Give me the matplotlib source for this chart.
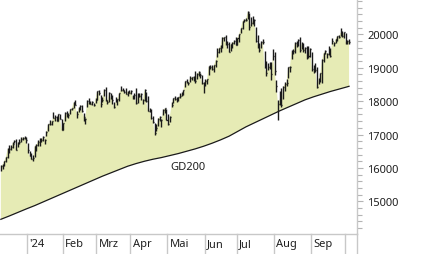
"""
Nasdaq-100 style daily bar chart with GD200 (200-day average) and shaded area
"""

import matplotlib.pyplot as plt
import matplotlib.transforms as mtransforms
import numpy as np
import pandas as pd
from matplotlib import ticker

# trading days 07.12.2023 - 03.10.2024 (exchange holidays removed)
holidays = ["2023-12-25", "2024-01-01", "2024-01-15", "2024-02-19", "2024-03-29",
            "2024-05-27", "2024-06-19", "2024-07-04", "2024-09-02"]
days = pd.bdate_range("2023-12-07", "2024-10-03", freq="C", holidays=holidays)

close = [
    16050, 16085, 16205, 16330, 16560, 16580, 16620, 16730, 16810, 16550, 16760, 16780, 16880, 16910, 16900, 16830,
    16540, 16370, 16280, 16310, 16650, 16690, 16790, 16820, 16830, 16940, 16850, 17090, 17310, 17330, 17400, 17500,
    17520, 17420, 17600, 17480, 17140,
    17340, 17640, 17610, 17570, 17750, 17780, 17960, 17880, 17600, 17780, 17850, 17690, 17540, 17480, 17990, 17940,
    17920, 17960, 17870, 18040,
    18300, 18240, 17910, 18020, 18340, 18030, 17980, 18240, 18080, 18040, 17810, 17990, 18050, 18240, 18340, 18340,
    18260, 18210, 18280, 18250,
    18290, 18130, 18180, 17930, 18150, 18160, 18210, 18020, 18340, 18000, 17710, 17710, 17490, 17390, 17040, 17210,
    17470, 17530, 17430, 17720, 17780, 17440,
    17320, 17540, 17890, 18080, 18070, 18070, 18110, 18160, 18210, 18320, 18590, 18560, 18550, 18680, 18720, 18710,
    18600, 18810, 18870, 18770, 18540, 18540,
    18610, 18650, 19040, 19010, 18970, 19070, 19210, 19470, 19580, 19660, 19900, 19910, 19750, 19700, 19470, 19700,
    19750, 19790, 19680,
    19880, 20010, 20190, 20390, 20440, 20440, 20680, 20210, 20330, 20390, 20420, 19800, 19700, 19520, 19770, 19760,
    19030, 18830, 19020, 19060, 18800, 19360,
    18890, 18440, 17900, 18080, 17880, 18410, 18510, 18540, 19010, 19020, 19480, 19510, 19750, 19710, 19820, 19520,
    19720, 19530, 19600, 19380, 19360, 19570,
    18960, 18920, 18930, 18420, 18630, 18830, 19240, 19440, 19500, 19420, 19430, 19340, 19800, 19740, 19850, 19940,
    19930, 20060, 19950, 20060,
    19770, 19800, 19770,
]
high = [
    16080, 16120, 16220, 16340, 16600, 16700, 16680, 16780, 16840, 16880, 16790, 16880, 16920, 16930, 16970, 16940,
    16750, 16500, 16440, 16400, 16660, 16710, 16850, 16900, 16900, 16970, 16860, 17120, 17330, 17440, 17420, 17670,
    17590, 17550, 17610, 17610, 17480,
    17360, 17660, 17690, 17640, 17770, 17800, 17980, 18040, 17710, 17810, 17870, 17890, 17640, 17500, 18020, 18080,
    18010, 17990, 17940, 18090,
    18310, 18330, 18180, 18120, 18370, 18420, 18020, 18260, 18250, 18190, 17960, 18110, 18060, 18250, 18460, 18390,
    18330, 18380, 18290, 18330,
    18330, 18180, 18230, 18390, 18230, 18230, 18240, 18070, 18370, 18270, 18150, 17780, 17760, 17560, 17360, 17320,
    17500, 17560, 17460, 17760, 17800, 17750,
    17600, 17560, 17960, 18090, 18140, 18110, 18120, 18230, 18270, 18340, 18600, 18650, 18580, 18740, 18720, 18760,
    18910, 18850, 18910, 18840, 18770, 18570,
    18670, 18670, 19050, 19070, 19080, 19090, 19220, 19580, 19590, 19670, 19920, 19920, 19980, 19810, 19780, 19710,
    19780, 19840, 19920,
    19890, 20020, 20190, 20400, 20470, 20500, 20690, 20640, 20510, 20560, 20460, 20230, 19970, 19750, 19790, 19870,
    19490, 19210, 19150, 19160, 19160, 19550,
    19480, 18640, 18030, 18290, 18380, 18450, 18570, 18660, 19030, 19060, 19520, 19560, 19760, 19800, 19860, 19930,
    19770, 19730, 19620, 19640, 19650, 19580,
    19480, 19070, 19130, 19010, 18680, 18850, 19250, 19450, 19540, 19440, 19640, 19600, 19880, 19770, 19870, 19960,
    19990, 20180, 20090, 20070,
    20040, 19840, 19870,
]
low = [
    15900, 15960, 16050, 16170, 16290, 16460, 16530, 16610, 16740, 16550, 16620, 16720, 16790, 16830, 16880, 16740,
    16450, 16350, 16270, 16220, 16320, 16520, 16660, 16660, 16790, 16800, 16710, 16950, 17100, 17300, 17300, 17490,
    17410, 17400, 17400, 17460, 17130,
    17150, 17420, 17530, 17510, 17610, 17720, 17800, 17870, 17500, 17660, 17730, 17670, 17400, 17330, 17810, 17910,
    17910, 17880, 17840, 17930,
    18040, 18190, 17830, 17980, 18160, 17990, 17900, 17980, 18060, 17920, 17780, 17960, 17870, 18010, 18300, 18300,
    18250, 18200, 18160, 18240,
    18210, 18070, 18060, 17910, 17940, 18130, 18030, 17920, 18000, 17960, 17690, 17660, 17460, 17360, 17000, 17100,
    17270, 17400, 17240, 17570, 17650, 17430,
    17290, 17380, 17810, 17940, 18040, 17980, 18000, 18090, 18140, 18190, 18410, 18540, 18490, 18560, 18630, 18590,
    18540, 18660, 18760, 18700, 18520, 18240,
    18440, 18520, 18790, 18950, 18920, 18880, 19030, 19330, 19440, 19460, 19600, 19800, 19680, 19590, 19470, 19500,
    19590, 19710, 19670,
    19680, 19780, 20040, 20170, 20380, 20410, 20450, 20140, 20260, 20320, 20250, 19780, 19600, 19460, 19590, 19720,
    18990, 18750, 18940, 18960, 18640, 19240,
    18770, 18280, 17430, 17870, 17830, 18050, 18300, 18450, 18680, 18880, 19270, 19400, 19450, 19630, 19650, 19480,
    19560, 19460, 19440, 19270, 19300, 19310,
    18900, 18840, 18880, 18380, 18510, 18560, 18550, 19160, 19410, 19290, 19370, 19330, 19720, 19640, 19740, 19800,
    19900, 19950, 19930, 19880,
    19700, 19700, 19710,
]

# GD200 read every 5th trading day (last value = last day)
gd200 = [
    14460, 14560, 14665, 14770, 14870, 14980, 15090, 15200, 15310, 15420, 15530, 15640, 15750, 15850,
    15950, 16050, 16130, 16200, 16260, 16310, 16370, 16430, 16500, 16570, 16650, 16740, 16840, 16950,
    17090, 17230, 17350, 17470, 17590, 17710, 17820, 17930, 18040, 18130, 18210, 18290, 18360, 18430,
    18445,
]

month_labels = ["'24", "Feb", "Mrz", "Apr", "Mai", "Jun", "Jul", "Aug", "Sep", ""]
y_labels = [15000, 16000, 17000, 18000, 19000, 20000]

x = np.arange(len(days))
close = np.array(close)
gd_x = np.r_[np.arange(0, len(days), 5), len(days) - 1]
gd200 = np.array(gd200)

fig = plt.figure(figsize=(4.26, 2.55), dpi=100)
ax = fig.add_axes([0, 20 / 255, 357 / 426, 235 / 255])

# shaded area between price and GD200
ax.fill(np.r_[x, gd_x[::-1]], np.r_[close, gd200[::-1]], color="#e6ebb5", lw=0, zorder=1)

# GD200 line
ax.plot(gd_x, gd200, color="#1a1a1a", lw=0.9, zorder=2)

# daily bars: high-low and close tick
ax.vlines(x, low, high, color="#1a1a1a", lw=1.0, zorder=3)
ax.hlines(close, x, x + 0.6, color="#1a1a1a", lw=1.0, zorder=3)

ax.text(100, 16050, "GD200", fontsize=8, color="#202020", ha="left", va="center",
        family="Noto Sans")

ax.set_xlim(-0.5, 210.7)
ax.set_ylim(14020, 21060)

# axes look
for s in ["top", "left"]:
    ax.spines[s].set_visible(False)
for s in ["bottom", "right"]:
    ax.spines[s].set_color("#c8c8c8")
    ax.spines[s].set_linewidth(1)

ax.yaxis.tick_right()
ax.set_yticks(y_labels)
ax.yaxis.set_minor_locator(ticker.MultipleLocator(200))
ax.tick_params(axis="y", which="major", length=4.5, width=0.8, color="#b4b4b4", pad=3,
               labelsize=8, labelcolor="#202020")
ax.tick_params(axis="y", which="minor", length=3.5, width=0.8, color="#b4b4b4")
ax.tick_params(axis="x", bottom=False, labelbottom=False)
for lab in ax.get_yticklabels():
    lab.set_family("Noto Sans")

# right axis line continues down to the bottom
ax.plot([1, 1], [0, -20 / 235], transform=ax.transAxes, clip_on=False, color="#c8c8c8", lw=1)

# month separators and labels
trans = mtransforms.blended_transform_factory(ax.transData, ax.transAxes)
starts = [i for i in range(1, len(days)) if days[i].month != days[i - 1].month]
for s, lab in zip(starts, month_labels):
    ax.plot([s - 0.5, s - 0.5], [0, -20 / 235], transform=trans, clip_on=False,
            color="#c8c8c8", lw=1)
    ax.text(s + 1.0, -10 / 235, lab, transform=trans, fontsize=8, color="#202020",
            ha="left", va="center", family="Noto Sans")

fig.savefig("out.png", dpi=100)
